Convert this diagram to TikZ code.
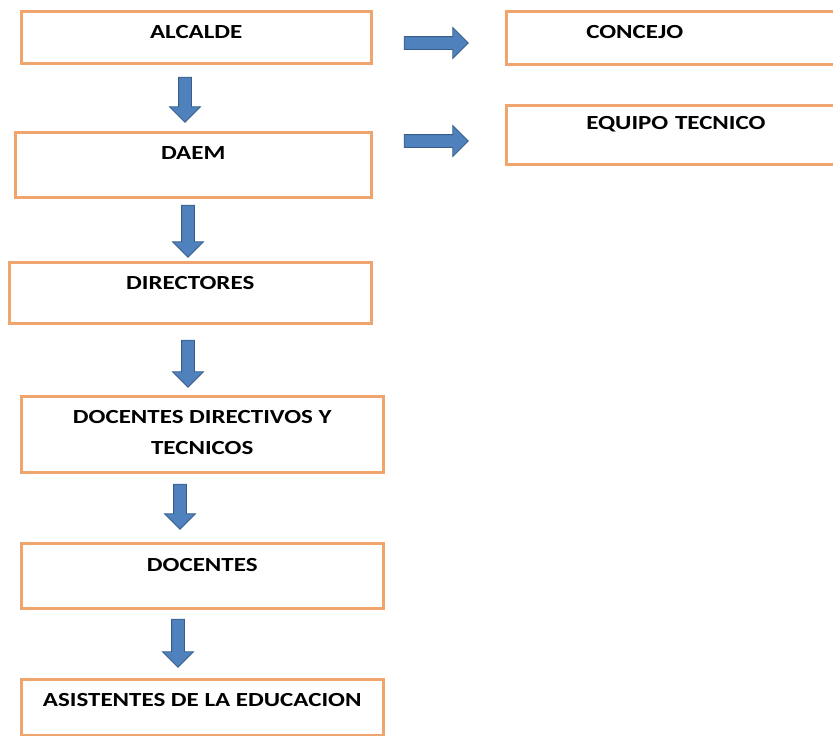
\documentclass[tikz,border=0pt]{standalone}
\usepackage{fontspec}
\newfontfamily\calibri{Carlito}[FakeStretch=1.25]
\usetikzlibrary{positioning,shapes.arrows}
\definecolor{borde}{RGB}{240,165,110}
\definecolor{azul}{RGB}{79,129,189}
\definecolor{azuloscuro}{RGB}{56,93,138}
\tikzset{%
caja/.style={draw=borde,line width=2.5pt,fill=white,anchor=north west,inner ysep=0pt,text height=27pt,font=\calibri\bfseries\fontsize{20pt}{31pt}\selectfont},
cajader/.style={caja,align=left,text width=260pt,inner xsep=80pt},
flecha/.style={single arrow,draw=azuloscuro,fill=azul,line width=0.8pt,inner xsep=0pt,inner ysep=6pt,single arrow head extend=9pt},
abajo/.style={flecha,rotate=-90,minimum height=47pt},
derecha/.style={flecha,minimum height=64pt}
}

\begin{document}
\begin{tikzpicture}[x=1pt,y=-1pt]

    \useasboundingbox (0,0) rectangle (833,736);
    \clip (0,0) rectangle (833,736);

    \node[caja,minimum width=350pt,text depth=25pt] (alcalde) at (20,10) {ALCALDE};
    \node[caja,minimum width=356pt,text depth=38pt] (daem) at (14,131) {DAEM};
    \node[caja,minimum width=362pt,text depth=34pt] (directores) at (8,261) {DIRECTORES};
    \node[caja,minimum width=362pt,align=center,text height=58pt,text depth=18pt] (dirtec) at (20,395) {DOCENTES DIRECTIVOS Y\\TECNICOS};
    \node[caja,minimum width=362pt,text height=28pt,text depth=37pt] (docentes) at (20,542) {DOCENTES};
    \node[caja,minimum width=362pt,text depth=29pt] (asistentes) at (20,678) {ASISTENTES DE LA EDUCACION};

    \node[cajader,text depth=26pt] (concejo) at (505,10) {CONCEJO};
    \node[cajader,text height=24pt,text depth=35pt] (equipo) at (505,104) {EQUIPO TECNICO};

    \node[abajo,minimum height=45pt] (f1) at (185,96.5) {};
    \node[abajo,minimum height=52pt] (f2) at (188,228) {};
    \node[abajo] (f3) at (188,360.5) {};
    \node[abajo,minimum height=45pt] (f4) at (180,503.5) {};
    \node[abajo,minimum height=48pt] (f5) at (178,640) {};

    \node[derecha] (h1) at (433,43) {};
    \node[derecha] (h2) at (433,141) {};

\end{tikzpicture}
\end{document}
